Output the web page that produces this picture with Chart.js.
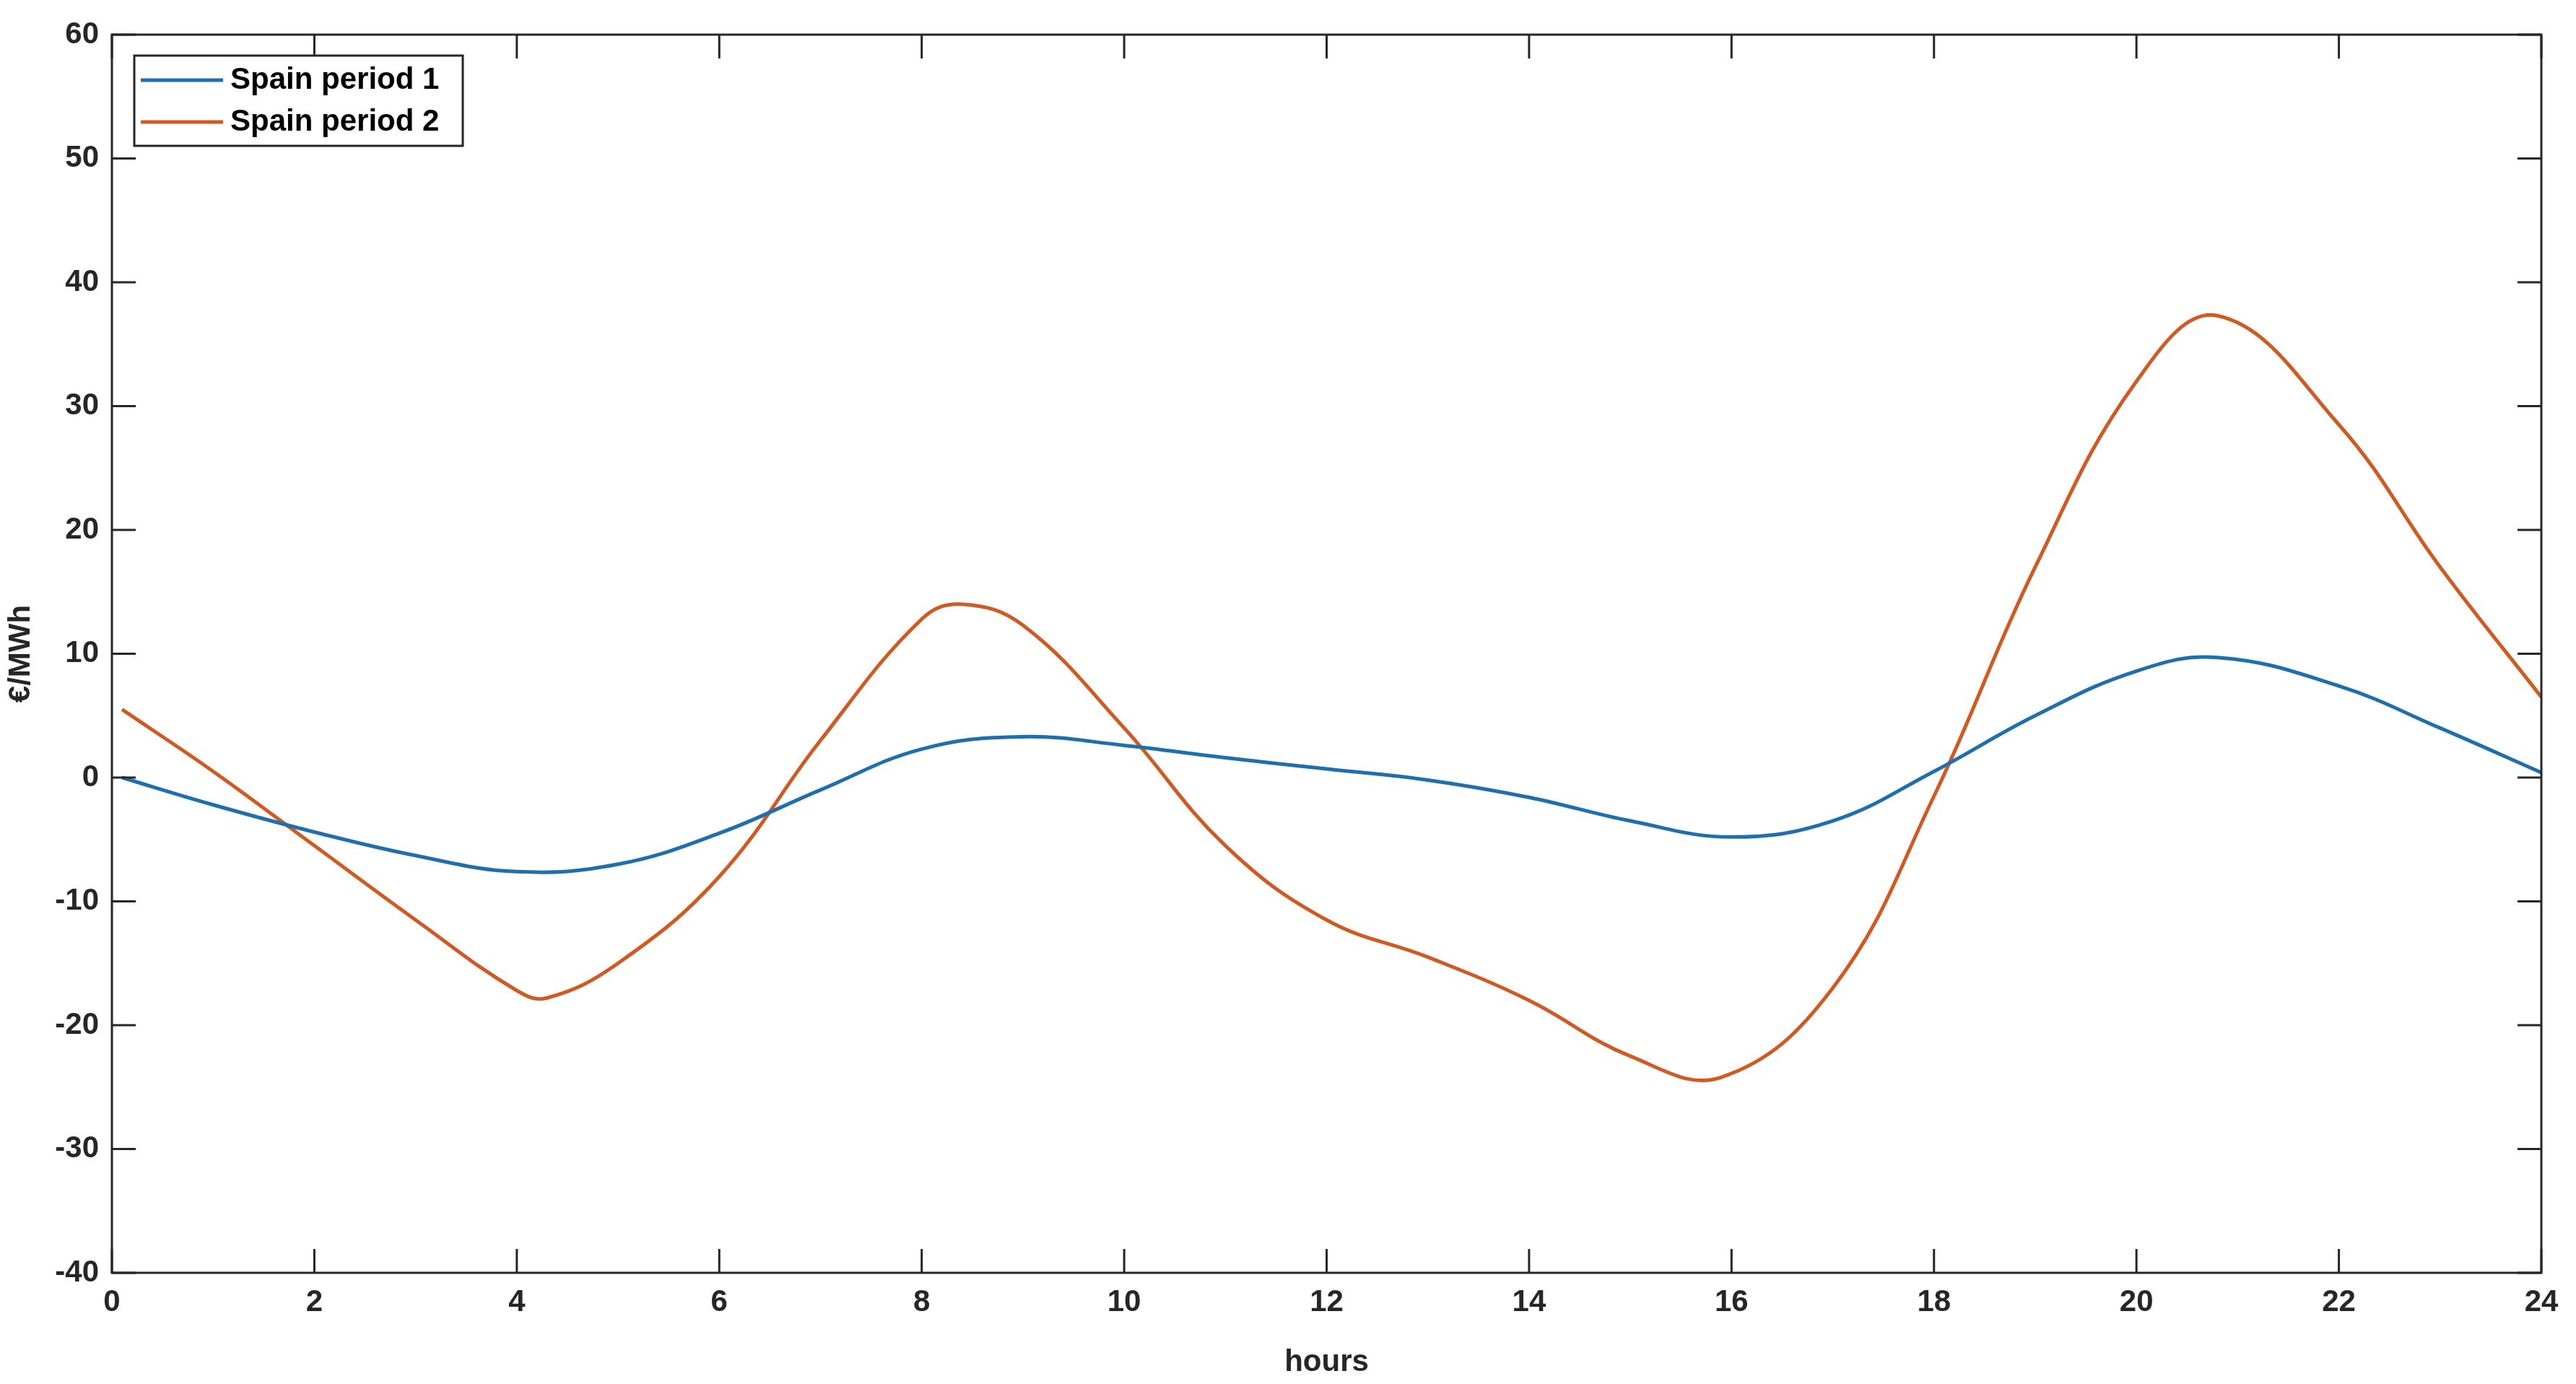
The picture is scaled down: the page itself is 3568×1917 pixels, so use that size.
<!DOCTYPE html>
<html><head><meta charset="utf-8">
<script src="https://cdn.jsdelivr.net/npm/chart.js@4"></script>
<style>html,body{margin:0;padding:0;background:#fff}#w{width:3568px;height:1917px}</style>
</head><body><div id="w"><canvas id="c"></canvas></div>
<script>
const hours1 = [0.1,1,2,3,4,5,6,7,8,9,10,11,12,13,14,15,16,17,18,19,20,20.8,22,23,24];
const period1 = [0,-2.2,-4.4,-6.3,-7.6,-7,-4.5,-1,2.3,3.3,2.6,1.6,0.7,-0.2,-1.6,-3.5,-4.8,-3.5,0.5,5,8.6,9.7,7.4,4,0.4];
const hours2 = [0.1,1,2,3,4,4.3,5,6,7,8,8.4,9,10,11,12,13,14,15,15.9,17,18,19,20,20.8,22,23,24];
const period2 = [5.5,0.5,-5.5,-11.5,-17.2,-17.8,-15,-8,3,12.8,14,12.3,4,-5.5,-11.5,-14.5,-18,-22.5,-24.2,-17,-1.5,17,32,37.3,28.5,17,6.5];
const xTicks = [0,2,4,6,8,10,12,14,16,18,20,22,24];
const yTicks = [-40,-30,-20,-10,0,10,20,30,40,50,60];
const seriesNames = ['Spain period 1','Spain period 2'];
const colors = ['#1f6fad','#d05a24'];
const F = '"Liberation Sans", Arial, sans-serif';
const pts = (xs, ys) => xs.map((x,i)=>({x, y: ys[i]}));

const boxPlugin = {
  id:'box',
  afterDatasetsDraw(chart){
    const {ctx, chartArea:a, scales:{x,y}} = chart;
    ctx.save();
    ctx.strokeStyle='#262626'; ctx.lineWidth=3;
    ctx.strokeRect(a.left,a.top,a.right-a.left,a.bottom-a.top);
    const L=33;
    ctx.beginPath();
    xTicks.forEach(v=>{const p=x.getPixelForValue(v);
      ctx.moveTo(p,a.bottom);ctx.lineTo(p,a.bottom-L);ctx.moveTo(p,a.top);ctx.lineTo(p,a.top+L);});
    yTicks.forEach(v=>{const p=y.getPixelForValue(v);
      ctx.moveTo(a.left,p);ctx.lineTo(a.left+L,p);ctx.moveTo(a.right,p);ctx.lineTo(a.right-L,p);});
    ctx.stroke();
    const lx=a.left+31, ly=a.top+29, lw=455, lh=125;
    ctx.fillStyle='#fff'; ctx.fillRect(lx,ly,lw,lh);
    ctx.strokeStyle='#262626'; ctx.lineWidth=3; ctx.strokeRect(lx,ly,lw,lh);
    ctx.font='bold 42px '+F; ctx.textBaseline='middle'; ctx.fillStyle='#000';
    chart.data.datasets.forEach((d,i)=>{
      const cy=ly+34+i*58;
      ctx.strokeStyle=d.borderColor; ctx.lineWidth=5;
      ctx.beginPath(); ctx.moveTo(lx+9,cy); ctx.lineTo(lx+123,cy); ctx.stroke();
      ctx.fillText(d.label,lx+133,cy);
    });
    ctx.restore();
  }
};

new Chart(document.getElementById('c'),{
  type:'line',
  data:{datasets:[
    {label:seriesNames[0],data:pts(hours1,period1),borderColor:colors[0],borderWidth:5,pointRadius:0,tension:0.4},
    {label:seriesNames[1],data:pts(hours2,period2),borderColor:colors[1],borderWidth:5,pointRadius:0,tension:0.4}
  ]},
  options:{
    responsive:true,maintainAspectRatio:false,animation:false,
    layout:{padding:{top:48,right:48,left:0,bottom:0}},
    plugins:{legend:{display:false},tooltip:{enabled:false}},
    scales:{
      x:{type:'linear',min:0,max:24,
        afterBuildTicks:s=>{s.ticks=xTicks.map(v=>({value:v}));},
        afterFit:s=>{s.height=154;},
        grid:{display:false},border:{display:false},
        ticks:{color:'#262626',font:{family:F,size:42,weight:'bold'},maxRotation:0,padding:8},
        title:{display:true,text:'hours',color:'#262626',font:{family:F,size:42,weight:'bold'},padding:{top:6}}},
      y:{min:-40,max:60,
        afterBuildTicks:s=>{s.ticks=yTicks.map(v=>({value:v}));},
        afterFit:s=>{s.width=155;},
        grid:{display:false},border:{display:false},
        ticks:{color:'#262626',font:{family:F,size:42,weight:'bold'},padding:10},
        title:{display:true,text:'€/MWh',color:'#262626',font:{family:F,size:42,weight:'bold'},padding:{bottom:0}}}
    }
  },
  plugins:[boxPlugin]
});
</script></body></html>
